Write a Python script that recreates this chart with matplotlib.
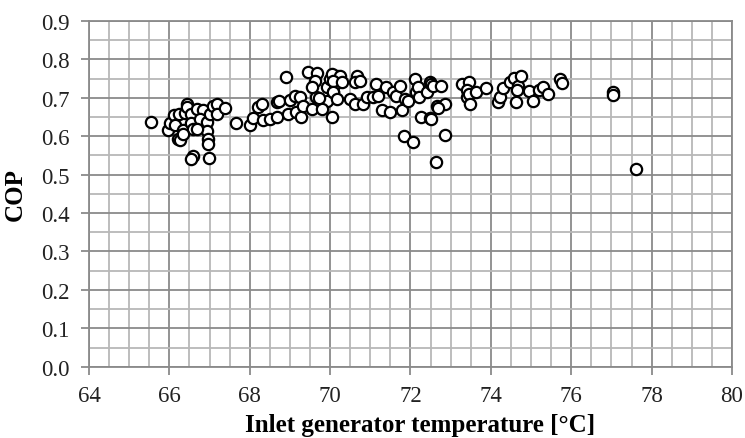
import numpy as np
import matplotlib
matplotlib.use("Agg")
import matplotlib.pyplot as plt
from matplotlib.ticker import MultipleLocator, FormatStrFormatter

# Inlet generator temperature [°C] and COP of each measured run
temp = [
    65.54, 65.97, 66.01, 66.12, 66.14, 66.22, 66.26, 66.33, 66.25, 66.39,
    66.45, 66.43, 66.55, 66.55, 66.58, 66.68, 66.59, 66.55, 66.84, 66.76,
    66.93, 66.94, 66.95, 66.97, 66.99, 67.01, 67.08, 67.19, 67.19, 67.38,
    67.66, 66.68, 66.34,
    68.00, 68.09, 68.21, 68.30, 68.32, 68.50, 68.69, 68.69, 68.73, 68.89,
    68.96, 69.00, 69.12, 69.15, 69.25, 69.28, 69.33, 69.44, 69.56, 69.65,
    69.68, 69.62, 69.54, 69.91, 69.93, 70.00, 70.04, 70.08, 70.16, 70.12,
    69.79, 69.73,
    70.04, 70.24, 70.08, 70.29, 70.06, 70.16, 70.49, 70.61, 70.66, 70.61,
    70.74, 70.82, 70.92, 71.07, 71.15, 71.18, 71.28, 71.40, 71.48, 71.57,
    71.65, 71.74, 71.78, 71.86, 71.84, 72.07, 72.11, 72.14, 72.19, 72.22,
    72.27, 72.40, 72.48, 72.48, 72.63, 72.65, 71.94,
    72.51, 72.55, 72.77, 72.86, 72.69, 72.86, 72.51, 73.27, 73.46, 73.41,
    73.41, 73.46, 73.49, 73.64, 73.89, 74.18, 74.22, 74.31, 74.47, 74.57,
    74.68, 74.65, 74.62, 74.76, 74.95, 75.04, 75.20,
    75.30, 75.43, 75.72, 75.76, 77.04, 77.04, 77.62,
]
cop = [
    0.638, 0.617, 0.635, 0.654, 0.628, 0.593, 0.589, 0.617, 0.658, 0.660,
    0.684, 0.675, 0.658, 0.635, 0.619, 0.671, 0.549, 0.541, 0.667, 0.645,
    0.636, 0.614, 0.593, 0.580, 0.543, 0.658, 0.680, 0.684, 0.658, 0.673,
    0.634, 0.620, 0.605,
    0.629, 0.647, 0.676, 0.684, 0.641, 0.645, 0.649, 0.689, 0.693, 0.754,
    0.658, 0.695, 0.704, 0.662, 0.703, 0.649, 0.680, 0.767, 0.671, 0.702,
    0.765, 0.745, 0.728, 0.693, 0.728, 0.749, 0.649, 0.715, 0.758, 0.737,
    0.671, 0.700,
    0.762, 0.758, 0.745, 0.741, 0.715, 0.697, 0.697, 0.684, 0.758, 0.741,
    0.745, 0.684, 0.702, 0.702, 0.736, 0.706, 0.667, 0.728, 0.662, 0.715,
    0.706, 0.732, 0.667, 0.697, 0.600, 0.584, 0.749, 0.715, 0.728, 0.702,
    0.649, 0.715, 0.647, 0.741, 0.532, 0.679, 0.693,
    0.736, 0.732, 0.730, 0.684, 0.673, 0.603, 0.645, 0.736, 0.741, 0.720,
    0.702, 0.710, 0.684, 0.715, 0.725, 0.689, 0.702, 0.725, 0.742, 0.751,
    0.732, 0.720, 0.690, 0.756, 0.719, 0.693, 0.720,
    0.728, 0.710, 0.749, 0.739, 0.715, 0.708, 0.515,
]

plt.rcParams["font.family"] = ["Liberation Serif", "DejaVu Serif"]

fig = plt.figure(figsize=(7.45, 4.39), dpi=100)
ax = fig.add_axes([0.1195, 0.1624, 0.863, 0.7875])

ax.set_xlim(64, 80)
ax.set_ylim(0, 0.9)
ax.xaxis.set_major_locator(MultipleLocator(2))
ax.xaxis.set_minor_locator(MultipleLocator(0.5))
ax.yaxis.set_major_locator(MultipleLocator(0.1))
ax.yaxis.set_minor_locator(MultipleLocator(0.05))
ax.yaxis.set_major_formatter(FormatStrFormatter("%.1f"))

# light minor grid, darker major grid
ax.grid(which="minor", color="#b8b8b8", linewidth=1.3)
ax.grid(which="major", color="#8a8a8a", linewidth=1.3)
ax.set_axisbelow(True)

for side in ["top", "right", "left", "bottom"]:
    ax.spines[side].set_color("#8a8a8a")
    ax.spines[side].set_linewidth(1.3)

ax.tick_params(which="major", direction="out", length=6, width=1.3,
               color="#8a8a8a", labelsize=16.5, labelcolor="#222222")
ax.tick_params(which="minor", length=0)
ax.tick_params(axis="x", pad=7)
ax.tick_params(axis="y", pad=8)

ax.scatter(temp, cop, s=66, facecolors="white", edgecolors="black",
           linewidths=1.6, zorder=3)

ax.set_xlabel("Inlet generator temperature [°C]", fontsize=18,
              fontweight="bold")
ax.xaxis.set_label_coords(0.515, -0.135)
ax.set_ylabel("COP", fontsize=18, fontweight="bold", labelpad=10)

fig.savefig("out.png", dpi=100)
